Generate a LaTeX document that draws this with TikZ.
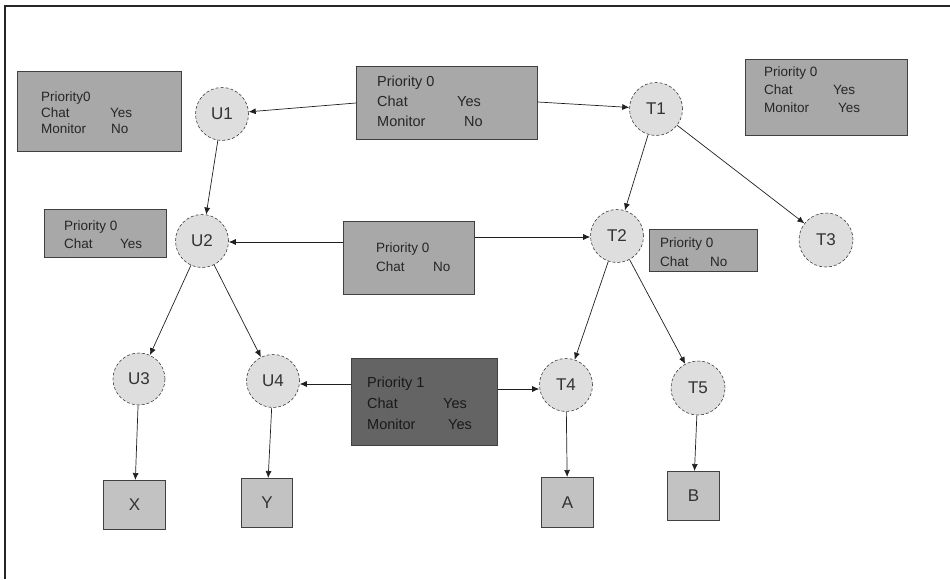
\documentclass[tikz,border=0pt]{standalone}
\usepackage{fontspec}
\setmainfont{Liberation Sans}
\usetikzlibrary{arrows.meta}
\definecolor{boxgray}{HTML}{A8A8A8}
\definecolor{darkbox}{HTML}{646464}
\definecolor{circgray}{HTML}{DEDEDE}
\definecolor{leafgray}{HTML}{C2C2C2}
\definecolor{linecol}{HTML}{202020}
\newcommand{\kv}[3]{\makebox[#1][l]{#2}#3}
\tikzset{
  infobox/.style={draw=black!75, line width=0.9pt, fill=boxgray, anchor=north west, inner sep=0pt},
  darkinfo/.style={draw=black!75, line width=0.9pt, fill=darkbox, anchor=north west, inner sep=0pt},
  agentnode/.style={draw=black!75, densely dashed, line width=0.6pt, fill=circgray, circle, inner sep=0pt, font=\fontsize{17}{17}\selectfont, text=black!80},
  leaf/.style={draw=black!75, line width=0.9pt, fill=leafgray, anchor=north west, inner sep=0pt, font=\fontsize{17}{17}\selectfont, text=black!80},
  conn/.style={draw=linecol, line width=0.7pt, -{Latex[length=7pt,width=6pt]}},
  btxt/.style={anchor=north west, align=left, inner sep=0pt, text=black!85}
}
\begin{document}
\begin{tikzpicture}[x=1pt,y=-1pt]
\useasboundingbox (0,0) rectangle (950,579);
\draw[line width=1.2pt, black!85] (5,579) -- (5,6) -- (950,6);

% info boxes
\node[infobox, minimum width=164pt, minimum height=80pt] (b1) at (17,71) {};
\node[btxt, font=\fontsize{13.5}{16}\selectfont] (b1t) at (41,92)
  {Priority0\\\kv{69pt}{Chat}{Yes}\\\kv{70pt}{Monitor}{No}};

\node[infobox, minimum width=181pt, minimum height=73pt] (b2) at (356,66) {};
\node[btxt, font=\fontsize{14.5}{20}\selectfont] (b2t) at (377,76)
  {Priority 0\\\kv{80pt}{Chat}{Yes}\\\kv{87pt}{Monitor}{No}};

\node[infobox, minimum width=162pt, minimum height=76pt] (b3) at (745,59) {};
\node[btxt, font=\fontsize{13.5}{18}\selectfont] (b3t) at (764,67)
  {Priority 0\\\kv{69pt}{Chat}{Yes}\\\kv{74pt}{Monitor}{Yes}};

\node[infobox, minimum width=122pt, minimum height=48pt] (b4) at (44,209) {};
\node[btxt, font=\fontsize{13.5}{18}\selectfont] (b4t) at (64,221)
  {Priority 0\\\kv{56pt}{Chat}{Yes}};

\node[infobox, minimum width=131pt, minimum height=73pt] (b5) at (343,221) {};
\node[btxt, font=\fontsize{13.5}{19}\selectfont] (b5t) at (376,243)
  {Priority 0\\\kv{57pt}{Chat}{No}};

\node[infobox, minimum width=108pt, minimum height=42pt] (b6) at (649,229) {};
\node[btxt, font=\fontsize{13.5}{19}\selectfont] (b6t) at (660,238)
  {Priority 0\\\kv{50pt}{Chat}{No}};

\node[darkinfo, minimum width=146pt, minimum height=87pt] (b7) at (351,358) {};
\node[btxt, font=\fontsize{14.5}{21}\selectfont, text=black!90] (b7t) at (367,377)
  {Priority 1\\\kv{76pt}{Chat}{Yes}\\\kv{81pt}{Monitor}{Yes}};

% agents
\node[agentnode, minimum size=53pt] (U1) at (222,114) {U1};
\node[agentnode, minimum size=53pt] (T1) at (656,109) {T1};
\node[agentnode, minimum size=53pt] (U2) at (202,241) {U2};
\node[agentnode, minimum size=53pt] (T2) at (617,236) {T2};
\node[agentnode, minimum size=54pt] (T3) at (826,240) {T3};
\node[agentnode, minimum size=52pt] (U3) at (139,379) {U3};
\node[agentnode, minimum size=53pt] (U4) at (273,381) {U4};
\node[agentnode, minimum size=53pt] (T4) at (566,385) {T4};
\node[agentnode, minimum size=54pt] (T5) at (698,388) {T5};

% leaves
\node[leaf, minimum width=62pt, minimum height=49pt] (X) at (103,480) {X};
\node[leaf, minimum width=51pt, minimum height=49pt] (Y) at (241,478) {Y};
\node[leaf, minimum width=52pt, minimum height=50pt] (A) at (541,477) {A};
\node[leaf, minimum width=52pt, minimum height=49pt] (B) at (667,471) {B};

% connectors
\draw[conn] (b2.west |- 0,103) -- (U1);
\draw[conn] (b2.east |- 0,102) -- (T1);
\draw[conn] (U1) -- (U2);
\draw[conn] (T1) -- (T2);
\draw[conn] (T1) -- (T3);
\draw[conn] (b5.west |- 0,242) -- (U2.east |- 0,242);
\draw[conn] (b5.east |- 0,237) -- (T2.west |- 0,237);
\draw[conn] (U2) -- (U3);
\draw[conn] (U2) -- (U4);
\draw[conn] (T2) -- (T4);
\draw[conn] (T2) -- (T5);
\draw[conn] (b7.west |- 0,384) -- (U4.east |- 0,384);
\draw[conn] (b7.east |- 0,389) -- (T4.west |- 0,389);
\draw[conn] (U3) -- (X);
\draw[conn] (U4) -- (Y);
\draw[conn] (T4) -- (A);
\draw[conn] (T5) -- (B);
\end{tikzpicture}
\end{document}
